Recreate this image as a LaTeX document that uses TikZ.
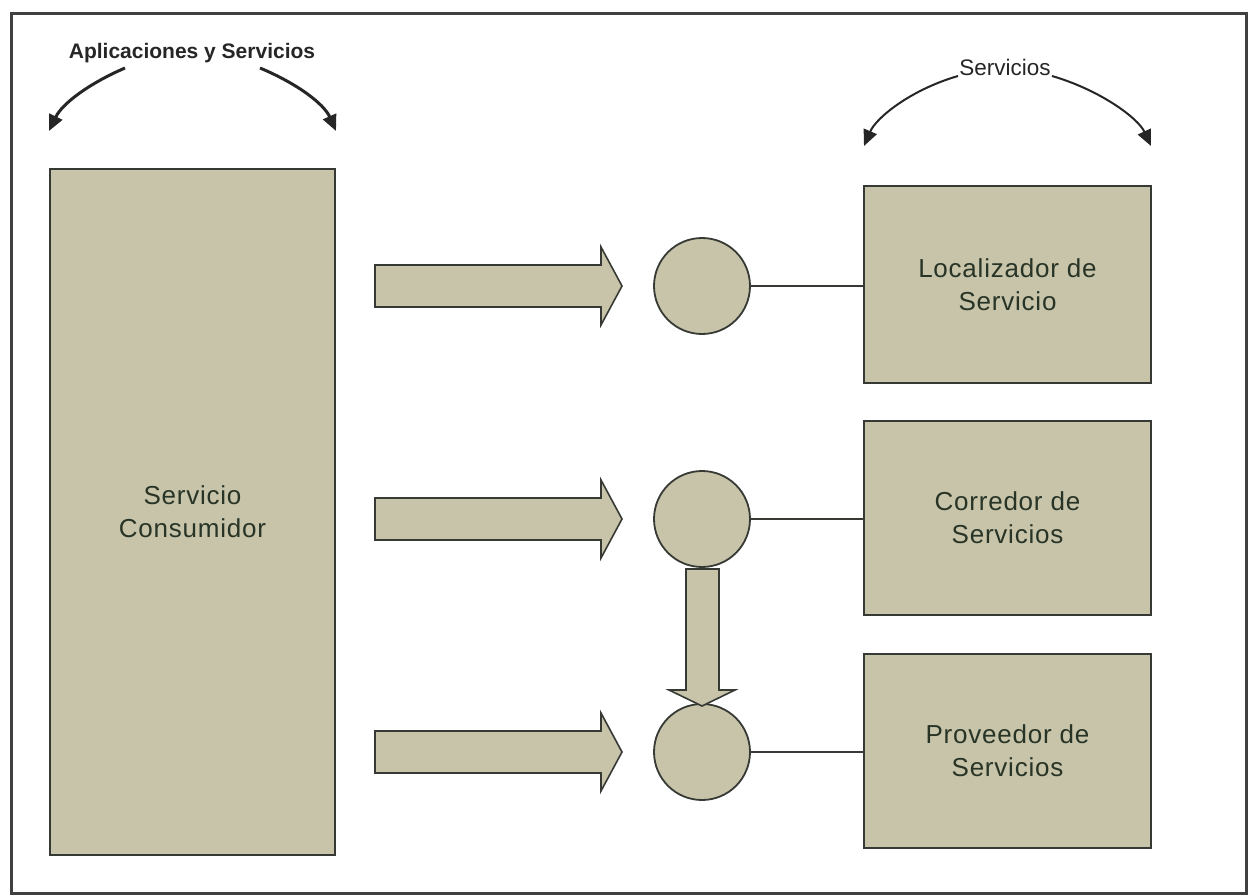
\documentclass[tikz,border=0pt]{standalone}
\usepackage{fontspec}
\setmainfont{Liberation Sans}
\usetikzlibrary{arrows.meta}
\definecolor{khaki}{RGB}{199,196,170}
\definecolor{edge}{RGB}{55,58,52}
\definecolor{ink}{RGB}{40,52,38}
\tikzset{
  box/.style={draw=edge, line width=2pt, fill=khaki, outer sep=0pt, inner sep=0pt,
    text=ink, align=center, font=\fontsize{26}{33}\selectfont\addfontfeature{LetterSpace=3}},
  port/.style={circle, draw=edge, line width=1.8pt, fill=khaki, minimum size=96pt, inner sep=0pt, outer sep=0pt},
  flow/.style={draw=edge, line width=1.6pt, fill=khaki, line join=miter},
  link/.style={draw=edge, line width=1.6pt},
  bend/.style={line width=#1, draw=black!85, -{Triangle[length=16pt, width=14pt]}},
}
\begin{document}
\begin{tikzpicture}[x=1pt, y=-1pt]
  \useasboundingbox (0,0) rectangle (1253,896);
  % outer frame
  \draw[draw=black!75, line width=3pt] (11,14) rectangle (1246,893);

  % headings
  \node[font=\bfseries\fontsize{21}{24}\selectfont, text=black!85] (apps) at (192,53) {Aplicaciones y Servicios};
  \node[font=\fontsize{22.5}{24}\selectfont, text=black!85] (svcs) at (1005,67) {Servicios};
  \coordinate (appsL) at (49,131);
  \coordinate (appsR) at (336,131);
  \coordinate (svcsL) at (864,146);
  \coordinate (svcsR) at (1151,146);
  \draw[bend=3pt] (125,68) .. controls (88,84) and (62,104) .. (appsL);
  \draw[bend=3pt] (260,68) .. controls (298,84) and (324,104) .. (appsR);
  \draw[bend=2pt] (958,76) .. controls (910,90) and (876,118) .. (svcsL);
  \draw[bend=2pt] (1052,76) .. controls (1100,90) and (1138,118) .. (svcsR);

  % consumer and service boxes
  \node[box, minimum width=285pt, minimum height=685pt] (cons) at (192.5,512) {Servicio\\Consumidor};
  \node[box, minimum width=287pt, minimum height=196pt] (loc) at (1007.5,284.5) {Localizador de\\Servicio};
  \node[box, minimum width=287pt, minimum height=194pt] (cor) at (1007.5,518) {Corredor de\\Servicios};
  \node[box, minimum width=287pt, minimum height=194pt] (prov) at (1007.5,751) {Proveedor de\\Servicios};

  % access points
  \node[port] (p1) at (702,286) {};
  \node[port] (p2) at (702,519) {};
  \node[port] (p3) at (702,752) {};

  % lines to the services
  \draw[link] (p1.east) -- (loc.west |- p1.east);
  \draw[link] (p2.east) -- (cor.west |- p2.east);
  \draw[link] (p3.east) -- (prov.west |- p3.east);

  % block arrows from the consumer
  \foreach \c in {286,519,752} {
    \draw[flow] (375,\c-21) -- (601,\c-21) -- (601,\c-39) -- (622,\c) -- (601,\c+39)
      -- (601,\c+21) -- (375,\c+21) -- cycle;
  }
  % block arrow from the broker point to the provider point
  \draw[flow] (686,569) -- (719,569) -- (719,690) -- (735,690) -- (702,706)
    -- (669,690) -- (686,690) -- cycle;
\end{tikzpicture}
\end{document}
